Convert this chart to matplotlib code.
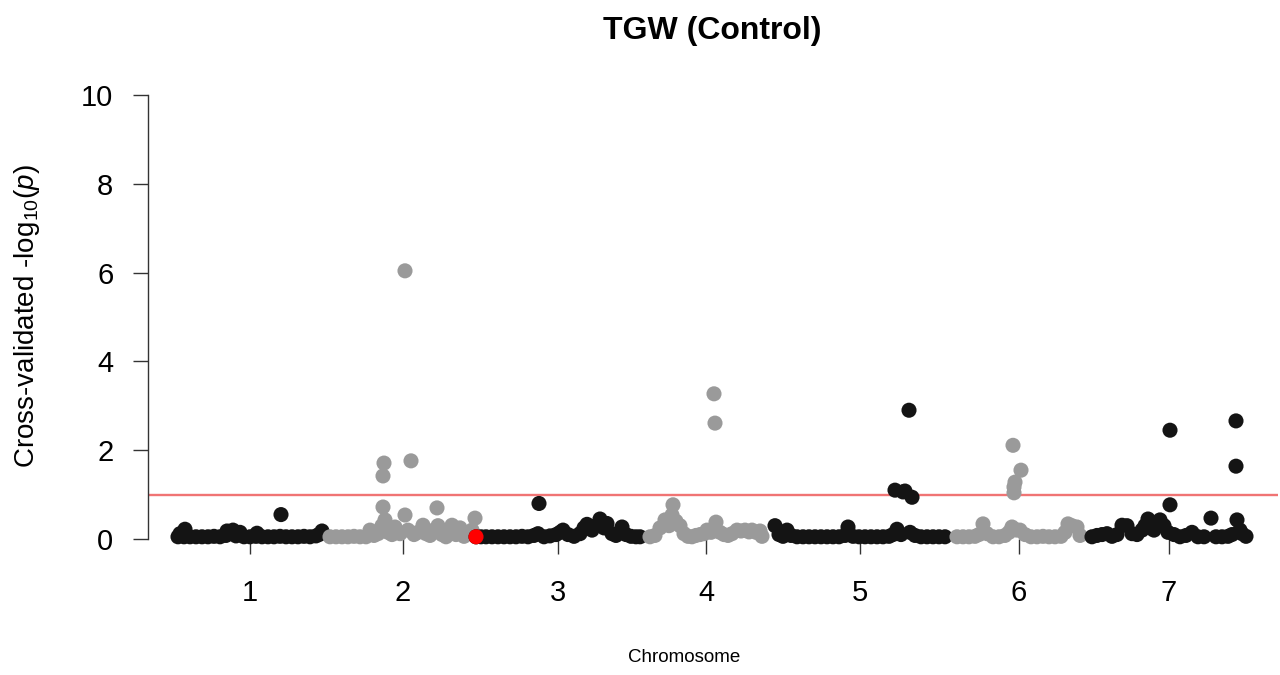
import numpy as np
import matplotlib
matplotlib.use("Agg")
import matplotlib.pyplot as plt

plt.rcParams['font.family'] = ['Liberation Sans', 'DejaVu Sans']
plt.rcParams['mathtext.fontset'] = 'custom'
plt.rcParams['mathtext.rm'] = 'Liberation Sans'
plt.rcParams['mathtext.it'] = 'Liberation Sans:italic'

# marker positions (cM within chromosome) and cross-validated -log10(p)
chr1_pos = [0, 2, 6, 7, 12, 18, 24, 30, 36, 42, 48, 49, 55, 58, 62, 66, 72, 78, 79, 84,
            90, 96, 102, 103, 108, 114, 120, 126, 132, 138, 141, 144]
chr1_val = [.05, .12, .05, .22, .05, .05, .05, .05, .06, .05, .08, .18, .20, .07, .15, .05, .05, .06, .13, .05,
            .05, .05, .06, .55, .05, .05, .05, .06, .05, .07, .10, .18]

chr2_pos = [0, 6, 12, 18, 24, 30, 36, 40, 44, 48, 52, 53, 53, 54, 55, 58, 62, 65, 70, 75,
            75, 78, 81, 84, 88, 93, 96, 100, 104, 107, 108, 112, 116, 122, 126, 130, 134, 138, 142, 145, 146]
chr2_val = [.05, .05, .05, .05, .06, .05, .05, .20, .08, .12, .30, .72, 1.42, 1.71, .43, .15, .10, .27, .12, 6.04,
            .54, .20, 1.76, .10, .15, .31, .12, .08, .20, .70, .30, .10, .05, .31, .10, .25, .06, .12, .20, .47, .05]

chr3_pos = [0, 5, 10, 16, 22, 28, 34, 40, 46, 52, 58, 62, 63, 68, 74, 80, 84, 87, 92, 98,
            104, 108, 111, 116, 120, 124, 128, 131, 136, 140, 146, 150, 155, 160, 164]
chr3_val = [.05, .05, .05, .05, .05, .05, .05, .05, .06, .05, .08, .12, .80, .05, .07, .10, .15, .20, .10, .06,
            .12, .25, .33, .20, .30, .45, .25, .35, .12, .08, .27, .10, .06, .05, .05]

chr4_pos = [0, 5, 10, 15, 19, 22, 23, 26, 30, 34, 38, 42, 46, 50, 54, 57, 61, 64, 65, 66,
            70, 74, 78, 82, 87, 91, 95, 99, 102, 106, 110, 112]
chr4_val = [.05, .08, .25, .43, .30, .54, .77, .40, .30, .12, .06, .05, .08, .10, .12, .20, .15, 3.27, 2.61, .38,
            .15, .10, .08, .12, .20, .18, .20, .16, .20, .15, .18, .06]

chr5_pos = [0, 4, 8, 12, 16, 22, 28, 34, 40, 46, 52, 58, 64, 70, 73, 78, 84, 90, 96, 102,
            108, 114, 118, 120, 122, 126, 128, 130, 134, 135, 137, 140, 146, 152, 158, 164, 170]
chr5_val = [.30, .10, .06, .20, .08, .05, .05, .05, .05, .05, .05, .05, .05, .08, .27, .06, .05, .05, .05, .05,
            .05, .06, .10, 1.10, .22, .10, 1.06, 1.08, 2.90, .15, .94, .08, .05, .05, .05, .05, .05]

chr6_pos = [0, 6, 12, 18, 22, 26, 30, 36, 42, 48, 52, 55, 56, 57, 57, 58, 60, 63, 64, 68,
            74, 80, 86, 92, 98, 104, 108, 111, 115, 120, 123]
chr6_val = [.05, .05, .05, .06, .10, .34, .12, .05, .05, .08, .15, .27, 2.11, 1.04, 1.17, 1.28, .20, .20, 1.55, .10,
            .05, .05, .06, .05, .05, .06, .15, .34, .30, .27, .08]

chr7_pos = [0, 5, 10, 15, 20, 25, 30, 35, 40, 45, 50, 53, 56, 58, 62, 65, 68, 72, 76, 78,
            78, 82, 88, 94, 100, 106, 112, 119, 124, 130, 136, 140, 144, 144, 145, 148, 150, 154]
chr7_val = [.05, .08, .10, .12, .06, .10, .31, .30, .12, .10, .20, .30, .45, .25, .20, .35, .43, .30, .15, 2.45,
            .77, .10, .05, .08, .15, .05, .05, .47, .05, .05, .06, .10, 2.66, 1.64, .43, .20, .12, .06]

chrom_names = ['1', '2', '3', '4', '5', '6', '7']
chrom_len = [152, 146, 174, 125, 182, 135, 160]
chrom_pos = [chr1_pos, chr2_pos, chr3_pos, chr4_pos, chr5_pos, chr6_pos, chr7_pos]
chrom_val = [chr1_val, chr2_val, chr3_val, chr4_val, chr5_val, chr6_val, chr7_val]

# highlighted marker (chromosome index, position, value)
hl_chrom, hl_pos, hl_val = 2, 0, 0.05
threshold = 1.0

fig = plt.figure(figsize=(12.8, 6.75), dpi=100)
ax = fig.add_axes([148 / 1280, 136 / 675, 1130 / 1280, 444 / 675])

offsets = np.concatenate([[0], np.cumsum(chrom_len)[:-1]])
ticks = []
for i, (p, v) in enumerate(zip(chrom_pos, chrom_val)):
    x = offsets[i] + np.array(p)
    col = '#141414' if i % 2 == 0 else '#9a9a9a'
    ax.scatter(x, v, s=118, c=col, edgecolors='none', clip_on=False, zorder=2)
    ticks.append(offsets[i] + (min(p) + max(p)) / 2)

ax.scatter(offsets[hl_chrom] + hl_pos, hl_val, s=118, c='red', edgecolors='none',
           clip_on=False, zorder=3)
ax.axhline(threshold, color='#f07474', lw=1.7, zorder=1)

ax.set_xlim(-30, 1100)
ax.set_ylim(0, 10)
ax.set_yticks(range(0, 11, 2))
ax.set_xticks(ticks)
ax.set_xticklabels(chrom_names)

for s in ['top', 'right', 'bottom']:
    ax.spines[s].set_visible(False)
ax.spines['left'].set_color('#333333')
ax.spines['left'].set_linewidth(1.0)
ax.tick_params(axis='y', length=11, width=1.0, color='#333333', pad=14, labelsize=21)
ax.tick_params(axis='x', length=11, width=1.0, color='#333333', pad=18, labelsize=21)

fig.text(27 / 1280, 1 - 316 / 675, 'Cross-validated -log$_{10}$($p$)', rotation=90,
         ha='center', va='center', fontsize=20)
fig.text(684 / 1280, 1 - 657 / 675, 'Chromosome', ha='center', va='center', fontsize=13.5)
fig.text(712 / 1280, 1 - 31 / 675, 'TGW (Control)', ha='center', va='center',
         fontsize=23, fontweight='bold')

fig.savefig('out.png', dpi=100)
